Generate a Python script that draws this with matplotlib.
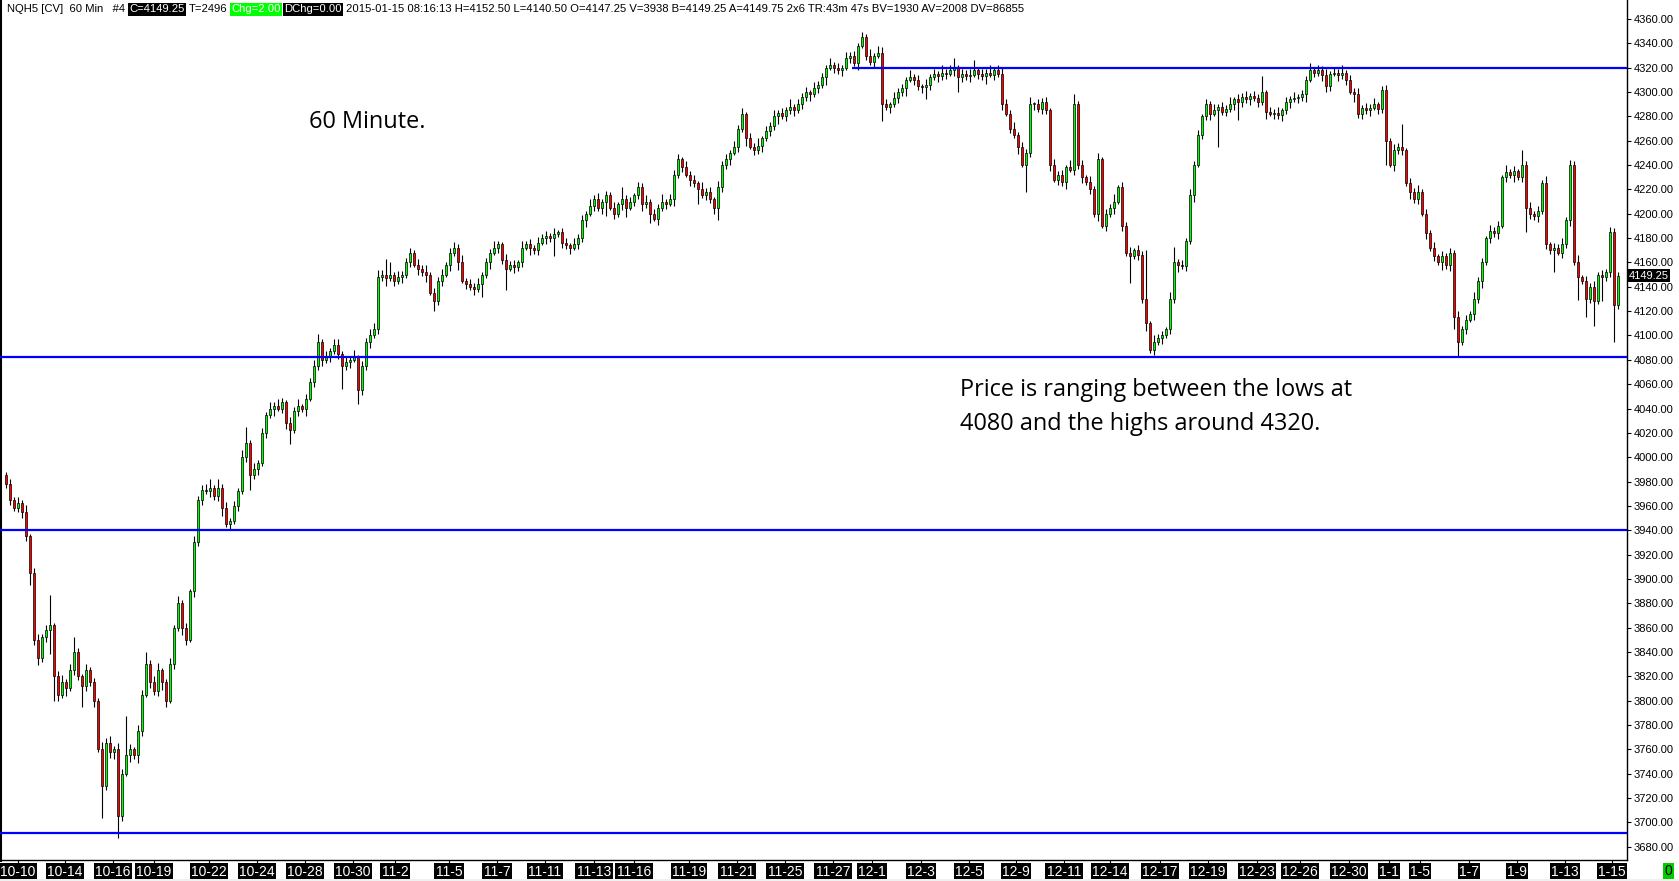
import matplotlib
matplotlib.use('Agg')
import matplotlib.pyplot as plt
from matplotlib import font_manager
from matplotlib.patches import Rectangle
import numpy as np

# ---------------- data ----------------
first_open = 3985.0
closes = [
 3978,3965,3958,3962,3955,3935,3905,3850,3835,3852,3858,3862,3820,3805,3815,3810,3825,3840,3820,3812,
 3825,3815,3800,3760,3730,3765,3758,3760,3705,3740,3755,3760,3755,3775,3805,3830,3815,3808,3825,3815,
 3800,3830,3860,3880,3860,3850,3890,3930,3965,3973,3972,3975,3968,3975,3958,3945,3948,3960,3972,4000,
 4012,3985,3990,3995,4020,4035,4040,4042,4040,4045,4028,4022,4038,4042,4040,4048,4062,4075,4095,4080,
 4083,4087,4092,4085,4075,4078,4080,4082,4055,4075,4095,4100,4105,4148,4150,4147,4150,4145,4148,4150,
 4160,4168,4158,4155,4152,4150,4135,4128,4145,4150,4158,4168,4172,4160,4145,4142,4140,4138,4142,4150,
 4160,4168,4172,4175,4162,4155,4158,4156,4160,4172,4175,4172,4170,4176,4180,4182,4180,4183,4185,4176,
 4174,4172,4175,4180,4195,4200,4206,4212,4205,4210,4215,4205,4200,4208,4212,4205,4210,4215,4222,4208,
 4210,4200,4196,4205,4210,4208,4212,4232,4245,4238,4232,4228,4225,4220,4215,4218,4212,4205,4222,4240,
 4245,4250,4255,4270,4282,4262,4255,4252,4256,4262,4268,4272,4280,4283,4280,4285,4288,4285,4290,4296,
 4300,4298,4303,4306,4312,4320,4322,4320,4318,4320,4328,4330,4324,4338,4345,4330,4325,4330,4332,4290,
 4288,4290,4295,4300,4303,4310,4312,4310,4305,4304,4306,4312,4315,4313,4316,4315,4318,4320,4312,4315,
 4313,4314,4318,4315,4313,4316,4314,4318,4315,4290,4282,4270,4265,4255,4240,4250,4290,4290,4286,4292,
 4285,4240,4228,4232,4226,4238,4236,4290,4240,4230,4226,4220,4200,4245,4190,4200,4205,4210,4222,4190,
 4168,4165,4170,4166,4130,4110,4088,4095,4098,4100,4105,4130,4160,4158,4157,4178,4215,4240,4265,4280,
 4290,4282,4285,4288,4284,4286,4290,4294,4292,4296,4294,4297,4295,4292,4300,4284,4282,4283,4281,4285,
 4292,4294,4295,4296,4298,4310,4318,4316,4318,4314,4305,4315,4316,4314,4316,4310,4300,4298,4282,4287,
 4285,4287,4290,4286,4302,4260,4240,4252,4255,4252,4225,4218,4212,4218,4200,4184,4172,4165,4160,4165,
 4158,4168,4115,4095,4105,4113,4118,4130,4145,4160,4180,4186,4184,4190,4230,4234,4232,4235,4230,4240,
 4205,4200,4198,4202,4225,4175,4170,4172,4168,4175,4195,4240,4160,4148,4145,4130,4140,4128,4150,4148,
 4152,4185,4125,4149.25]

upper_wick = [
 3,4,2,5,3,6,2,4,5,3,4,25,2,4,6,3,5,12,3,2,
 5,3,4,2,6,4,6,3,5,4,32,4,2,5,4,10,3,5,6,2,
 3,5,2,6,3,4,2,5,3,4,5,7,2,7,3,5,2,4,3,6,
 13,2,5,3,4,2,5,3,6,4,2,5,3,6,2,4,3,5,6,2,
 4,3,5,5,2,4,3,6,2,4,3,5,5,6,4,13,10,2,5,3,
 4,4,2,5,3,6,2,4,3,5,2,4,5,3,6,2,4,3,5,2,
 4,3,6,3,2,5,3,4,2,6,3,4,2,5,3,4,2,5,2,3,
 4,2,5,3,4,2,6,3,5,2,4,3,5,2,10,3,4,2,4,3,
 5,2,4,3,6,2,4,4,4,2,5,3,4,2,6,3,4,2,5,3,
 4,2,5,3,5,2,4,3,6,2,4,3,5,2,4,3,6,2,4,3,
 4,2,5,3,4,2,6,3,4,2,5,3,4,2,4,3,5,2,6,5,
 4,2,5,3,4,2,6,3,4,2,5,3,4,2,6,3,4,8,2,4,
 3,5,8,2,4,3,6,2,4,5,4,3,5,2,4,3,6,2,4,3,
 4,2,5,3,4,2,6,8,3,4,2,5,3,5,2,4,3,6,2,4,
 3,5,2,4,3,40,2,5,3,4,2,6,13,3,4,2,5,3,4,2,
 4,3,5,2,4,3,6,2,4,3,5,2,4,3,13,2,4,3,5,2,
 4,3,5,2,4,3,6,2,4,3,5,2,4,3,6,2,4,3,5,2,
 4,3,5,2,3,4,2,5,3,19,2,4,3,6,2,4,3,5,2,4,
 3,4,2,5,3,4,2,6,3,4,2,5,3,4,2,6,3,4,2,12,
 3,5,2,4,3,6,2,4,3,5,2,4,3,6,2,4,3,5,2,4,
 3,4,3,3]

lower_wick = [
 3,4,2,3,5,4,10,4,6,3,4,20,20,5,3,6,2,4,3,17,
 4,3,5,2,26,3,5,6,18,4,2,5,3,6,4,2,5,3,4,6,
 5,2,4,3,6,4,2,5,3,4,2,5,3,4,6,2,5,3,4,2,
 4,12,3,5,2,4,3,6,2,4,5,11,2,4,3,6,2,4,3,5,
 3,5,2,4,19,3,5,2,11,4,3,5,2,4,3,6,2,4,3,5,
 3,4,2,5,3,6,2,8,3,4,2,5,3,6,2,4,3,5,2,10,
 3,5,2,4,3,18,2,5,3,4,2,6,3,4,2,5,3,15,2,4,
 3,5,2,4,3,6,2,4,3,5,12,2,4,3,5,8,2,4,3,6,
 3,8,2,5,3,4,2,6,3,4,2,5,3,12,2,4,3,5,10,4,
 3,5,2,4,3,6,2,4,3,5,2,4,3,6,2,4,3,5,2,4,
 3,5,2,4,3,6,2,4,3,5,2,4,3,6,2,4,3,5,2,14,
 3,5,2,4,3,6,2,4,3,5,10,4,2,5,3,4,2,5,12,4,
 3,5,2,4,3,6,2,4,3,5,2,4,3,6,2,22,3,5,2,4,
 3,5,2,4,3,6,2,4,3,5,2,4,3,6,2,4,3,5,2,4,
 3,22,2,4,3,6,2,4,3,5,2,4,3,6,2,4,3,5,2,4,
 3,5,2,30,3,4,2,5,15,4,3,5,2,4,3,6,2,4,3,5,
 3,5,2,4,3,6,2,4,3,5,5,4,2,5,3,4,2,6,3,4,
 3,5,2,4,3,20,2,5,3,4,2,6,3,4,2,5,3,4,2,6,
 3,5,10,12,3,4,2,5,3,6,2,4,3,5,2,4,3,6,2,4,
 20,4,3,5,2,4,3,18,2,4,3,5,2,19,3,15,3,20,2,20,
 3,4,30,3]

date_labels = ['10-10','10-14','10-16','10-19','10-22','10-24','10-28','10-30','11-2','11-5',
               '11-7','11-11','11-13','11-16','11-19','11-21','11-25','11-27','12-1','12-3',
               '12-5','12-9','12-11','12-14','12-17','12-19','12-23','12-26','12-30','1-1',
               '1-5','1-7','1-9','1-13','1-15']
date_bar = [2.9,14.75,26.75,37,50.75,62.75,74.75,86.75,97.25,110.75,
            122.75,134.75,147,157,170.75,182.75,194.75,206.75,216.5,228.75,
            240.75,252.5,264.5,276,288.5,300.5,312.75,323.5,335.75,345.75,
            353.5,365.75,377.75,389.75,401.5]

level_values = [4320, 4082, 3940, 3691]
level_start_bar = [211.5, None, None, None]

last_price = 4149.25

header_pieces = [
    ("NQH5 [CV]  60 Min   #4", 'black', None),
    ("C=4149.25", 'white', 'black'),
    ("T=2496", 'black', None),
    ("Chg=2.00", 'white', '#00ff00'),
    ("DChg=0.00", 'white', 'black'),
    ("2015-01-15 08:16:13 H=4152.50 L=4140.50 O=4147.25 V=3938 B=4149.25 A=4149.75 2x6 TR:43m 47s BV=1930 AV=2008 DV=86855", 'black', None),
]

# ---------------- fonts ----------------
names = {f.name for f in font_manager.fontManager.ttflist}
narrow = 'Liberation Sans Narrow' if 'Liberation Sans Narrow' in names else 'Liberation Sans'
ui_font = 'Liberation Sans'
note_font = 'Open Sans'

# ---------------- figure ----------------
W, H = 1679, 881
fig = plt.figure(figsize=(W / 100, H / 100), dpi=100)
fig.patch.set_facecolor('white')
ax = fig.add_axes([0, 21 / H, 1627 / W, 860 / H])
ax.set_facecolor('white')

n = len(closes)
xs = np.arange(n)
cl = np.array(closes, dtype=float)
op = np.concatenate([[first_open], cl[:-1]])
hi = np.maximum(op, cl) + np.array(upper_wick, dtype=float)
lo = np.minimum(op, cl) - np.array(lower_wick, dtype=float)
up = cl >= op
colors = np.where(up, '#00ff00', '#ff0000')

ax.vlines(xs, lo, hi, color='black', linewidth=0.8, zorder=2)
body_h = np.maximum(np.abs(cl - op), 0.9)
ax.bar(xs, body_h, bottom=np.minimum(op, cl), width=0.72, color=colors,
       edgecolor='black', linewidth=0.5, zorder=3)

xmin, xmax = -1.5, 405.25
ax.set_xlim(xmin, xmax)
ax.set_ylim(3669.1, 4375.6)

for lv, st in zip(level_values, level_start_bar):
    ax.hlines(lv, st if st is not None else xmin, xmax, color='#0000ff',
              linewidth=1.6, zorder=4)

# spines
ax.spines['top'].set_visible(False)
ax.spines['left'].set_linewidth(2.2)
ax.spines['right'].set_linewidth(1.0)
ax.spines['bottom'].set_linewidth(1.0)
for s in ['left', 'right', 'bottom']:
    ax.spines[s].set_color('black')

# y axis on the right
ax.yaxis.tick_right()
yt = np.arange(3680, 4361, 20)
ax.set_yticks(yt)
ax.set_yticklabels([f"{v:.2f}" for v in yt])
ax.tick_params(axis='y', direction='out', length=3, width=0.8, pad=2,
               labelsize=8, colors='black')
for lbl in ax.get_yticklabels():
    lbl.set_fontfamily(ui_font)

# x axis date labels
ax.set_xticks(date_bar)
ax.set_xticklabels(date_labels)
ax.tick_params(axis='x', direction='out', length=3, width=0.8, pad=0.3,
               labelsize=10, labelcolor='white')
for lbl in ax.get_xticklabels():
    lbl.set_fontfamily(narrow)
    lbl.set_bbox(dict(boxstyle='square,pad=0.1', facecolor='black', edgecolor='none'))

# last price label on the right axis
ax.text(1.001, last_price, f"{last_price:.2f}", transform=ax.get_yaxis_transform(),
        ha='left', va='center', fontsize=8, color='white', family=ui_font,
        bbox=dict(boxstyle='square,pad=0.12', facecolor='black', edgecolor='none'),
        clip_on=False, zorder=6)

# header line, pieces placed one after another
renderer = fig.canvas.get_renderer()
px = 7.0
for txt, fg, bg in header_pieces:
    kw = {}
    if bg is not None:
        kw['bbox'] = dict(boxstyle='square,pad=0.1', facecolor=bg, edgecolor='none')
    t = fig.text(px / W, 1 - 9.5 / H, txt, ha='left', va='center', fontsize=8.15,
                 color=fg, family=ui_font, **kw)
    bb = t.get_window_extent(renderer=renderer)
    px = bb.x1 + 4

# annotations
fig.text(309 / W, 1 - 122 / H, "60 Minute.", ha='left', va='center',
         fontsize=16.9, family=note_font, color='black')
fig.text(960 / W, 1 - 390 / H, "Price is ranging between the lows at", ha='left',
         va='center', fontsize=16.9, family=note_font, color='black')
fig.text(960 / W, 1 - 424 / H, "4080 and the highs around 4320.", ha='left',
         va='center', fontsize=16.9, family=note_font, color='black')

# bottom-right green status box
fig.patches.append(Rectangle((1663 / W, 2.5 / H), 11 / W, 16 / H, transform=fig.transFigure,
                             facecolor='#00cc00', edgecolor='none'))
fig.text(1668.5 / W, 1 - 871 / H, "0", ha='center', va='center', fontsize=10,
         family=narrow, color='black')

# light strip at the very bottom
fig.patches.append(Rectangle((0, 0), 1, 2.5 / H, transform=fig.transFigure,
                             facecolor='#f0f0f0', edgecolor='none'))

fig.savefig('out.png', dpi=100, facecolor='white')
